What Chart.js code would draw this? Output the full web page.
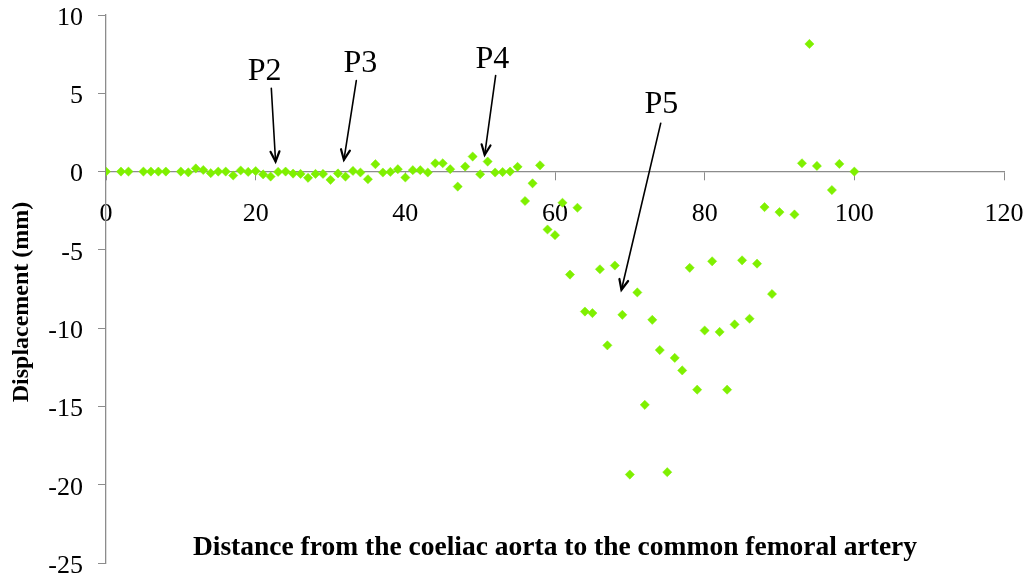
<!DOCTYPE html>
<html>
<head>
<meta charset="utf-8">
<title>Displacement along the aorta</title>
<script src="https://cdn.jsdelivr.net/npm/chart.js@4/dist/chart.umd.min.js"></script>
<style>
  html, body { margin: 0; padding: 0; background: #fff; }
  #wrap { position: relative; width: 1030px; height: 582px; }
</style>
</head>
<body>
<div id="wrap"><canvas id="displacement-chart"></canvas></div>
<script>
/* Displacement scatter — vanilla JS + Chart.js */

// ── Data ─────────────────────────────────────────────────────────────
var distances = [
  0, 2, 3, 5, 6, 7, 8, 10, 11, 12, 13, 14, 15, 16, 17, 18, 19, 20,
  21, 22, 23, 24, 25, 26, 27, 28, 29, 30, 31, 32, 33, 34, 35, 36, 37, 38,
  39, 40, 41, 42, 43, 44, 45, 46, 47, 48, 49, 50, 51, 52, 53, 54, 55, 56,
  57, 58, 59, 60, 61, 62, 63, 64, 65, 66, 67, 68, 69, 70, 71, 72, 73, 74,
  75, 76, 77, 78, 79, 80, 81, 82, 83, 84, 85, 86, 87, 88, 89, 90, 92, 93,
  94, 95, 97, 98, 100
];
var displacements = [
  0, 0, 0, 0, 0, 0, 0, 0, -0.05, 0.2, 0.1, -0.1, 0, 0, -0.25, 0.07, -0.02, 0.03,
  -0.18, -0.32, -0.02, 0, -0.13, -0.15, -0.4, -0.15, -0.15, -0.53, -0.12, -0.32, 0.04, -0.06, -0.49, 0.47, -0.06, -0.02,
  0.15, -0.38, 0.09, 0.09, -0.06, 0.53, 0.53, 0.15, -0.96, 0.32, 0.96, -0.17, 0.64, -0.06, -0.03, 0, 0.3, -1.88,
  -0.75, 0.4, -3.7, -4.06, -1.99, -6.58, -2.31, -8.94, -9.04, -6.24, -11.1, -6.0, -9.15, -19.35, -7.72, -14.9, -9.47, -11.4,
  -19.2, -11.9, -12.7, -6.15, -13.93, -10.15, -5.73, -10.24, -13.93, -9.76, -5.67, -9.4, -5.88, -2.27, -7.82, -2.59, -2.74, 0.53,
  8.15, 0.36, -1.18, 0.49, 0
];

// axis limits
var xTicks = [0, 20, 40, 60, 80, 100, 120];
var yTicks = [-25, -20, -15, -10, -5, 0, 5, 10];

// point labels with arrows (data units)
var markLabels = ["P2", "P3", "P4", "P5"];
var markTextAt = [[21.2, 6.38], [33.98, 6.92], [51.63, 7.13], [74.22, 4.26]];
var markArrowFrom = [[22.09, 5.32], [33.45, 5.81], [52.07, 6.14], [74.13, 3.09]];
var markArrowTo = [[22.66, 0.64], [31.79, 0.75], [50.6, 1.07], [68.88, -7.55]];

var xTitle = "Distance from the coeliac aorta to the common femoral artery";
var yTitle = "Displacement (mm)";

(function () {
  "use strict";

  var SERIF = "'Liberation Serif', 'Times New Roman', serif";
  var AXIS_GREY = "#8c8c8c";

  // ── Annotations + axis titles ────────────────────────────────────────
  var labelsPlugin = {
    id: "pointLabels",
    afterDraw: function (chart) {
      var ctx = chart.ctx;
      var xs = chart.scales.x;
      var ys = chart.scales.y;
      var area = chart.chartArea;

      ctx.save();
      ctx.fillStyle = "#000";
      ctx.strokeStyle = "#000";
      ctx.lineWidth = 1.6;
      ctx.lineCap = "round";

      markLabels.forEach(function (txt, i) {
        ctx.font = "32px " + SERIF;
        ctx.textAlign = "center";
        ctx.textBaseline = "middle";
        ctx.fillText(txt, xs.getPixelForValue(markTextAt[i][0]), ys.getPixelForValue(markTextAt[i][1]));

        var x1 = xs.getPixelForValue(markArrowFrom[i][0]);
        var y1 = ys.getPixelForValue(markArrowFrom[i][1]);
        var x2 = xs.getPixelForValue(markArrowTo[i][0]);
        var y2 = ys.getPixelForValue(markArrowTo[i][1]);
        var ang = Math.atan2(y2 - y1, x2 - x1);
        var head = 11, spread = 0.42;

        ctx.beginPath();
        ctx.moveTo(x1, y1);
        ctx.lineTo(x2, y2);
        ctx.stroke();

        ctx.beginPath();
        ctx.moveTo(x2 - head * Math.cos(ang - spread), y2 - head * Math.sin(ang - spread));
        ctx.lineTo(x2, y2);
        ctx.lineTo(x2 - head * Math.cos(ang + spread), y2 - head * Math.sin(ang + spread));
        ctx.lineWidth = 2.2;
        ctx.stroke();
        ctx.lineWidth = 1.6;
      });

      // x title sits inside the plot, near the bottom
      ctx.font = "bold 27.5px " + SERIF;
      ctx.textAlign = "center";
      ctx.textBaseline = "middle";
      ctx.fillText(xTitle, (area.left + area.right) / 2, 548);

      // y title, rotated
      ctx.font = "bold 24px " + SERIF;
      ctx.translate(22, 302);
      ctx.rotate(-Math.PI / 2);
      ctx.fillText(yTitle, 0, 0);
      ctx.restore();
    }
  };

  // ── Chart initialisation ─────────────────────────────────────────────
  function initChart() {
    var canvas = document.getElementById("displacement-chart");
    if (!canvas || typeof Chart === "undefined") return;

    var points = distances.map(function (d, i) {
      return { x: d, y: displacements[i] };
    });

    new Chart(canvas.getContext("2d"), {
      type: "scatter",
      data: {
        datasets: [{
          label: "Displacement",
          data: points,
          pointStyle: "rectRot",
          pointRadius: 4.6,
          pointHoverRadius: 4.6,
          backgroundColor: "#7ff000",
          borderColor: "#7ff000",
          borderWidth: 0.5
        }]
      },
      options: {
        responsive: true,
        maintainAspectRatio: false,
        animation: false,
        layout: { padding: { top: 15, right: 26, bottom: 19, left: 0 } },
        plugins: {
          legend: { display: false },
          tooltip: { enabled: false }
        },
        scales: {
          x: {
            type: "linear",
            position: { y: 0 },
            min: xTicks[0],
            max: xTicks[xTicks.length - 1],
            afterBuildTicks: function (axis) {
              axis.ticks = xTicks.map(function (v) { return { value: v }; });
            },
            afterFit: function (axis) { axis.paddingLeft = 0; axis.paddingRight = 0; },
            grid: { drawOnChartArea: false, tickLength: 8, color: AXIS_GREY, tickColor: AXIS_GREY },
            border: { display: true, color: AXIS_GREY, width: 1.3 },
            ticks: {
              color: "#000",
              padding: 19,
              maxRotation: 0,
              font: { family: SERIF, size: 26 }
            }
          },
          y: {
            type: "linear",
            position: "left",
            min: yTicks[0],
            max: yTicks[yTicks.length - 1],
            afterBuildTicks: function (axis) {
              axis.ticks = yTicks.map(function (v) { return { value: v }; });
            },
            afterFit: function (axis) {
              axis.width = 106;
              axis.paddingTop = 0;
              axis.paddingBottom = 0;
            },
            grid: { drawOnChartArea: false, tickLength: 8, color: AXIS_GREY, tickColor: AXIS_GREY },
            border: { display: true, color: AXIS_GREY, width: 1.3 },
            ticks: {
              color: "#000",
              padding: 15,
              labelOffset: 3,
              font: { family: SERIF, size: 26 }
            }
          }
        }
      },
      plugins: [labelsPlugin]
    });
  }

  // ── Boot ─────────────────────────────────────────────────────────────
  document.addEventListener("DOMContentLoaded", initChart);
})();
</script>
</body>
</html>
